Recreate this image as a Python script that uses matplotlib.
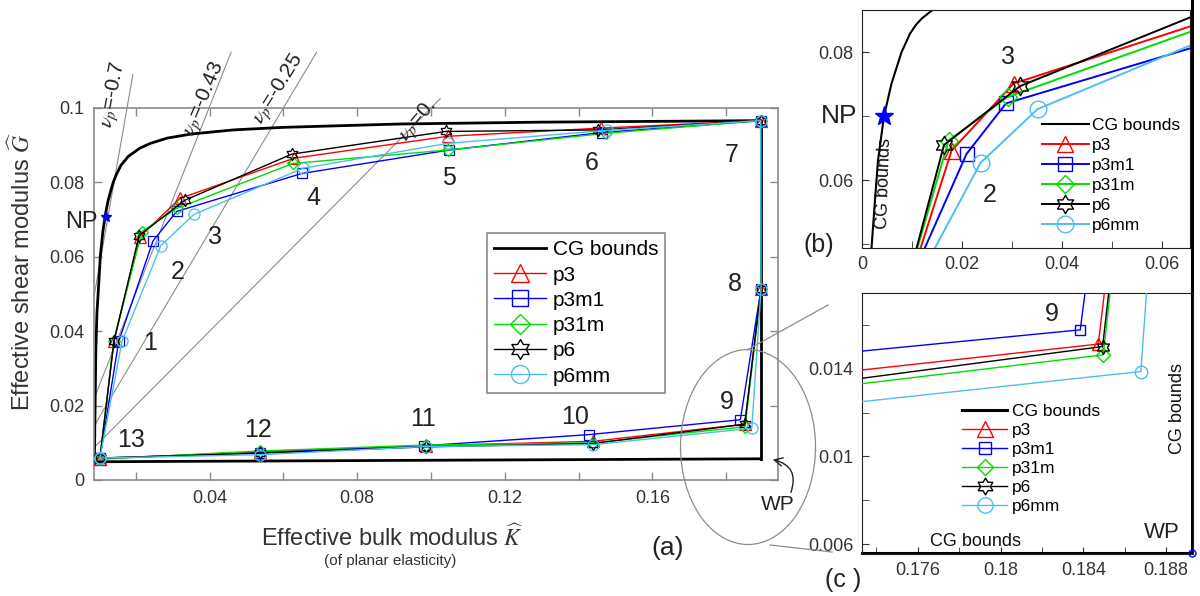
import numpy as np
import matplotlib
matplotlib.use('Agg')
import matplotlib.pyplot as plt
from matplotlib.path import Path
from matplotlib.patches import Ellipse, FancyArrowPatch
from matplotlib.lines import Line2D
from matplotlib.ticker import FixedLocator

plt.rcParams['font.family'] = ['Liberation Sans', 'DejaVu Sans']
plt.rcParams['mathtext.fontset'] = 'stix'

W, H = 1200, 596

# ---------------- data: overview panel (a), vertices 1..13 ----------------
groups = ['p3', 'p3m1', 'p31m', 'p6', 'p6mm']
colors = ['#FF0000', '#0000FF', '#00DD00', '#000000', '#4DBEEE']

p3_K   = [0.0141, 0.0211, 0.0320, 0.0629, 0.1046, 0.1460, 0.1893, 0.1894, 0.1850, 0.1439, 0.0986, 0.0537, 0.0103]
p3_G   = [0.0373, 0.0654, 0.0757, 0.0865, 0.0924, 0.0946, 0.0966, 0.0514, 0.0150, 0.0104, 0.0092, 0.0076, 0.0057]
p3m1_K = [0.0154, 0.0247, 0.0311, 0.0650, 0.1049, 0.1463, 0.1893, 0.1894, 0.1838, 0.1428, 0.0980, 0.0537, 0.0103]
p3m1_G = [0.0373, 0.0643, 0.0722, 0.0824, 0.0887, 0.0934, 0.0966, 0.0514, 0.0162, 0.0122, 0.0092, 0.0073, 0.0059]
p31m_K = [0.0140, 0.0217, 0.0311, 0.0626, 0.1045, 0.1474, 0.1893, 0.1894, 0.1851, 0.1439, 0.0986, 0.0537, 0.0103]
p31m_G = [0.0373, 0.0668, 0.0730, 0.0851, 0.0887, 0.0932, 0.0966, 0.0514, 0.0143, 0.0100, 0.0094, 0.0078, 0.0056]
p6_K   = [0.0141, 0.0209, 0.0333, 0.0623, 0.1040, 0.1453, 0.1893, 0.1894, 0.1850, 0.1439, 0.0986, 0.0537, 0.0103]
p6_G   = [0.0373, 0.0657, 0.0752, 0.0876, 0.0937, 0.0941, 0.0966, 0.0514, 0.0150, 0.0098, 0.0089, 0.0072, 0.0059]
p6mm_K = [0.0163, 0.0268, 0.0358, 0.0653, 0.1046, 0.1477, 0.1893, 0.1894, 0.1869, 0.1439, 0.0986, 0.0537, 0.0103]
p6mm_G = [0.0373, 0.0630, 0.0714, 0.0838, 0.0905, 0.0940, 0.0966, 0.0514, 0.0139, 0.0095, 0.0090, 0.0068, 0.0059]

# CG bounds in the overview: upper curve, right edge, lower edge
cg_up_K = [0.0088, 0.0090, 0.0092, 0.0095, 0.0100, 0.0104, 0.0111, 0.0119, 0.0125, 0.0132, 0.0139,
           0.0147, 0.0160, 0.0180, 0.0211, 0.0240, 0.0285, 0.0350, 0.0463, 0.0600, 0.0916, 0.1300, 0.1894]
cg_up_G = [0.0049, 0.0200, 0.0350, 0.0450, 0.0530, 0.0600, 0.0668, 0.0720, 0.0750, 0.0776, 0.0800,
           0.0820, 0.0846, 0.0870, 0.0892, 0.0905, 0.0919, 0.0930, 0.0941, 0.0948, 0.0957, 0.0962, 0.0966]
cg_low_K = [0.0080, 0.1894]
cg_low_G = [0.0049, 0.0057]
np_K, np_G = 0.0119, 0.0708

# Poisson-ratio reference lines and their upper G end
nu_values = [-0.7, -0.43, -0.25, 0.0]
nu_labels = [r'$\nu_p$=-0.7', r'$\nu_p$=-0.43', r'$\nu_p$=-0.25', r'$\nu_p$=0.']
nu_top_G = [0.109, 0.115, 0.115, 0.1025]

point_names = [str(i) for i in range(1, 14)]

# ---------------- data: detail (b), vertices 1..4 ----------------
b_p3_K   = [0.0068, 0.0179, 0.0303, 0.075]
b_p3_G   = [0.0373, 0.0646, 0.0751, 0.0864]
b_p3m1_K = [0.0057, 0.0209, 0.0288, 0.075]
b_p3m1_G = [0.0373, 0.0641, 0.0720, 0.0828]
b_p31m_K = [0.0066, 0.0173, 0.0291, 0.075]
b_p31m_G = [0.0373, 0.0662, 0.0730, 0.0858]
b_p6_K   = [0.0068, 0.0164, 0.0316, 0.075]
b_p6_G   = [0.0373, 0.0655, 0.0747, 0.0884]
b_p6mm_K = [0.0063, 0.0237, 0.0351, 0.075]
b_p6mm_G = [0.0373, 0.0627, 0.0711, 0.0841]
b_cg_K = [0.0014, 0.0019, 0.0026, 0.0032, 0.0044, 0.0059, 0.0079, 0.0096, 0.0108, 0.0120,
          0.0141, 0.0170, 0.0200]
b_cg_G = [0.0400, 0.0494, 0.0569, 0.0631, 0.0700, 0.0751, 0.0800, 0.0829, 0.0843, 0.0853,
          0.0866, 0.0880, 0.0890]
b_np_K, b_np_G = 0.0044, 0.0700

# ---------------- data: detail (c), vertices 8..10 ----------------
c_p3_K   = [0.1893, 0.18472, 0.1439]
c_p3_G   = [0.0513, 0.01512, 0.0109]
c_p3m1_K = [0.1887, 0.18385, 0.1428]
c_p3m1_G = [0.0513, 0.01577, 0.0120]
c_p31m_K = [0.1893, 0.18496, 0.1439]
c_p31m_G = [0.0513, 0.01463, 0.0100]
c_p6_K   = [0.1893, 0.18493, 0.1439]
c_p6_G   = [0.0513, 0.01501, 0.0099]
c_p6mm_K = [0.1896, 0.18678, 0.1439]
c_p6mm_G = [0.0513, 0.01387, 0.0095]
c_cg_K = [0.1733, 0.18925, 0.18925]
c_cg_G = [0.0056, 0.0056, 0.0966]
wp_K, wp_G = 0.18925, 0.0056

main_K = [p3_K, p3m1_K, p31m_K, p6_K, p6mm_K]
main_G = [p3_G, p3m1_G, p31m_G, p6_G, p6mm_G]
b_K = [b_p3_K, b_p3m1_K, b_p31m_K, b_p6_K, b_p6mm_K]
b_G = [b_p3_G, b_p3m1_G, b_p31m_G, b_p6_G, b_p6mm_G]
c_K = [c_p3_K, c_p3m1_K, c_p31m_K, c_p6_K, c_p6mm_K]
c_G = [c_p3_G, c_p3m1_G, c_p31m_G, c_p6_G, c_p6mm_G]

# ---------------- markers ----------------
ang = np.pi / 2 + np.arange(12) * np.pi / 6
rad = np.where(np.arange(12) % 2 == 0, 1.0, 0.577)
hexagram = Path(np.c_[rad * np.cos(ang), rad * np.sin(ang)].tolist() + [[0, 1]], closed=True)
markers = ['^', 's', 'D', hexagram, 'o']
msize_scale = [1.0, 0.85, 0.75, 1.1, 1.0]


def px(x, y):
    return x / W, 1 - y / H


def ax_rect(l, t, r, b):
    return [l / W, 1 - b / H, (r - l) / W, (b - t) / H]


fig = plt.figure(figsize=(W / 100, H / 100), dpi=100)

# =============== panel (a) ===============
ax = fig.add_axes(ax_rect(94, 108, 778, 480))
grey = '#8a8a8a'
for s in ax.spines.values():
    s.set_color(grey)
    s.set_linewidth(1.2)
ax.set_xlim(0.0087, 0.1940)
ax.set_ylim(0, 0.1)
ax.xaxis.set_major_locator(FixedLocator([0.04, 0.08, 0.12, 0.16]))
ax.xaxis.set_minor_locator(FixedLocator([0.02, 0.06, 0.10, 0.14, 0.18]))
ax.set_xticklabels(['0.04', '0.08', '0.12', '0.16'])
ax.yaxis.set_major_locator(FixedLocator([0, 0.02, 0.04, 0.06, 0.08, 0.1]))
ax.set_yticklabels(['0', '0.02', '0.04', '0.06', '0.08', '0.1'])
ax.tick_params(which='both', direction='in', length=6, width=1, color=grey,
               top=True, right=True, labelsize=13, labelcolor='#333333', pad=7)

# Poisson-ratio rays
for nu, gtop in zip(nu_values, nu_top_G):
    c = (1 - nu) / (1 + nu)
    k0 = ax.get_xlim()[0]
    ax.plot([k0, gtop / c], [c * k0, gtop], color='#8c8c8c', lw=0.8, clip_on=False, zorder=1)

ax.plot(cg_up_K, cg_up_G, color='k', lw=2, zorder=2)
ax.plot([cg_low_K[-1], cg_low_K[-1]], [cg_low_G[-1], cg_up_G[-1]], color='k', lw=2, zorder=2)
ax.plot(cg_low_K, cg_low_G, color='k', lw=2, zorder=2)

for i, (Ks, Gs) in enumerate(zip(main_K, main_G)):
    ax.plot([Ks[-1]] + Ks, [Gs[-1]] + Gs, color=colors[i], lw=1.0,
            marker=markers[i], ms=8 * msize_scale[i], mfc='none', mec=colors[i], mew=0.9, zorder=3 + i)

ax.plot([np_K], [np_G], marker='*', color='#0000FF', ms=8, zorder=10, linestyle='none')

label_pos = [(150, 343), (178, 272), (215, 237), (313, 198), (449, 178), (592, 163), (732, 155),
             (735, 284), (727, 402), (575, 417), (423, 419), (258, 430), (131, 440)]
for name, (x, y) in zip(point_names, label_pos):
    fig.text(*px(x, y), name, fontsize=18, ha='center', va='center', color='#222222')

fig.text(*px(98, 222), 'NP', fontsize=17, ha='right', va='center', color='#222222')

nu_text_pos = [(114, 95, 79), (204, 99, 67), (279, 89, 58), (418, 121, 50)]
for lab, (x, y, rot) in zip(nu_labels, nu_text_pos):
    fig.text(*px(x, y), lab, fontsize=15, ha='center', va='center', rotation=rot, color='#222222')

fig.text(*px(392, 538), r'Effective bulk modulus $\widehat{K}$', fontsize=17, ha='center', va='center',
         color='#333333')
fig.text(*px(390, 561), '(of planar elasticity)', fontsize=11, ha='center', va='center', color='#333333')
fig.text(*px(22, 271), r'Effective shear modulus $\widehat{G}$', fontsize=17, ha='center', va='center',
         rotation=90, color='#333333')
fig.text(*px(668, 548), '(a)', fontsize=19, ha='center', va='center', color='#222222')

handles = [Line2D([], [], color='k', lw=2)]
for i in range(5):
    handles.append(Line2D([], [], color=colors[i], lw=1.0, marker=markers[i],
                          ms=13 * msize_scale[i], mfc='none', mec=colors[i], mew=1.0))
leg = ax.legend(handles, ['CG bounds'] + groups, loc='upper left',
                bbox_to_anchor=px(487, 233), bbox_transform=fig.transFigure,
                fontsize=15, handlelength=2.5, labelspacing=0.3, handletextpad=0.3,
                borderpad=0.35, fancybox=False, framealpha=1, edgecolor=grey, borderaxespad=0)
leg.get_frame().set_linewidth(1.2)

# callout ellipse and connectors
fig.add_artist(Ellipse(px(748, 447), 135 / W, 195 / H, transform=fig.transFigure,
                       fill=False, ec='#8c8c8c', lw=0.9))
fig.add_artist(Line2D([747 / W, 828 / W], [1 - 350 / H, 1 - 305 / H], color='#8c8c8c', lw=0.9))
fig.add_artist(Line2D([770 / W, 832 / W], [1 - 545 / H, 1 - 552 / H], color='#8c8c8c', lw=0.9))
fig.add_artist(FancyArrowPatch(px(790, 495), px(770, 459), transform=fig.transFigure,
                               connectionstyle='arc3,rad=0.6', arrowstyle='->,head_length=6,head_width=3',
                               color='#222222', lw=1.0))
fig.text(*px(778, 505), 'WP', fontsize=15, ha='center', va='center', color='#222222')

# =============== panel (b) ===============
axb = fig.add_axes(ax_rect(862, 10, 1190, 248))
axb.set_xlim(0, 0.0656)
axb.set_ylim(0.0494, 0.0866)
axb.xaxis.set_major_locator(FixedLocator([0, 0.02, 0.04, 0.06]))
axb.xaxis.set_minor_locator(FixedLocator([0.01, 0.03, 0.05]))
axb.set_xticklabels(['0', '0.02', '0.04', '0.06'])
axb.yaxis.set_major_locator(FixedLocator([0.06, 0.08]))
axb.yaxis.set_minor_locator(FixedLocator([0.05, 0.07]))
axb.set_yticklabels(['0.06', '0.08'])
axb.tick_params(which='both', direction='in', length=5, color='#333333', labelsize=13,
                labelcolor='#333333', pad=6)
for s in axb.spines.values():
    s.set_color('#222222')

axb.plot(b_cg_K, b_cg_G, color='k', lw=1.5, zorder=2)
for i, (Ks, Gs) in enumerate(zip(b_K, b_G)):
    axb.plot(Ks, Gs, color=colors[i], lw=1.4, marker=markers[i], ms=12 * msize_scale[i],
             mfc='none', mec=colors[i], mew=1.0, zorder=3 + i)
axb.plot([b_np_K], [b_np_G], marker='*', color='#0000FF', ms=14, zorder=10, linestyle='none')
fig.text(*px(857, 116), 'NP', fontsize=19, ha='right', va='center', color='#222222')
fig.text(*px(1008, 57), '3', fontsize=18, ha='center', va='center', color='#222222')
fig.text(*px(990, 195), '2', fontsize=18, ha='center', va='center', color='#222222')
fig.text(*px(884, 183), 'CG bounds', fontsize=13, ha='center', va='center', rotation=88, color='#111111')
fig.text(*px(819, 245), '(b)', fontsize=18, ha='center', va='center', color='#222222')

hb = [Line2D([], [], color='k', lw=1.5)]
for i in range(5):
    hb.append(Line2D([], [], color=colors[i], lw=1.4, marker=markers[i], ms=12 * msize_scale[i],
                     mfc='none', mec=colors[i], mew=1.0))
axb.legend(hb, ['CG bounds'] + groups, loc='upper left', bbox_to_anchor=px(1042, 118),
           bbox_transform=fig.transFigure, frameon=False, fontsize=12.5, handlelength=2.7,
           labelspacing=0.28, handletextpad=0.2, borderpad=0, borderaxespad=0)

# =============== panel (c) ===============
axc = fig.add_axes(ax_rect(862, 293, 1193, 554))
axc.set_xlim(0.1733, 0.1893)
axc.set_ylim(0.00555, 0.01745)
axc.xaxis.set_major_locator(FixedLocator([0.176, 0.18, 0.184, 0.188]))
axc.xaxis.set_minor_locator(FixedLocator([0.174, 0.178, 0.182, 0.186]))
axc.set_xticklabels(['0.176', '0.18', '0.184', '0.188'])
axc.yaxis.set_major_locator(FixedLocator([0.006, 0.01, 0.014]))
axc.yaxis.set_minor_locator(FixedLocator([0.008, 0.012, 0.016]))
axc.set_yticklabels(['0.006', '0.01', '0.014'])
axc.tick_params(which='both', direction='in', length=5, color='#333333', labelsize=13,
                labelcolor='#333333', pad=6)
for s in axc.spines.values():
    s.set_color('#222222')

axc.plot(c_cg_K, c_cg_G, color='k', lw=2.2, zorder=2, clip_on=False)
for i, (Ks, Gs) in enumerate(zip(c_K, c_G)):
    axc.plot(Ks, Gs, color=colors[i], lw=1.0, marker=markers[i], ms=9 * msize_scale[i],
             mfc='none', mec=colors[i], mew=1.0, zorder=3 + i)
axc.plot([wp_K], [wp_G], marker='o', ms=5, mfc='none', mec='#0000FF', zorder=10, clip_on=False)
fig.text(*px(1052, 314), '9', fontsize=18, ha='center', va='center', color='#222222')
fig.text(*px(1162, 532), 'WP', fontsize=16, ha='center', va='center', color='#222222')
fig.text(*px(1178, 408), 'CG bounds', fontsize=13, ha='center', va='center', rotation=90, color='#111111')
fig.text(*px(975, 542), 'CG bounds', fontsize=13, ha='center', va='center', color='#111111')
fig.text(*px(843, 580), '(c )', fontsize=18, ha='center', va='center', color='#222222')

hc = [Line2D([], [], color='k', lw=2.2)]
for i in range(5):
    hc.append(Line2D([], [], color=colors[i], lw=1.0, marker=markers[i], ms=11 * msize_scale[i],
                     mfc='none', mec=colors[i], mew=1.0))
axc.legend(hc, ['CG bounds'] + groups, loc='upper left', bbox_to_anchor=px(962, 404),
           bbox_transform=fig.transFigure, frameon=False, fontsize=12.5, handlelength=2.6,
           labelspacing=0.22, handletextpad=0.3, borderpad=0, borderaxespad=0)

fig.savefig('out.png', dpi=100)
